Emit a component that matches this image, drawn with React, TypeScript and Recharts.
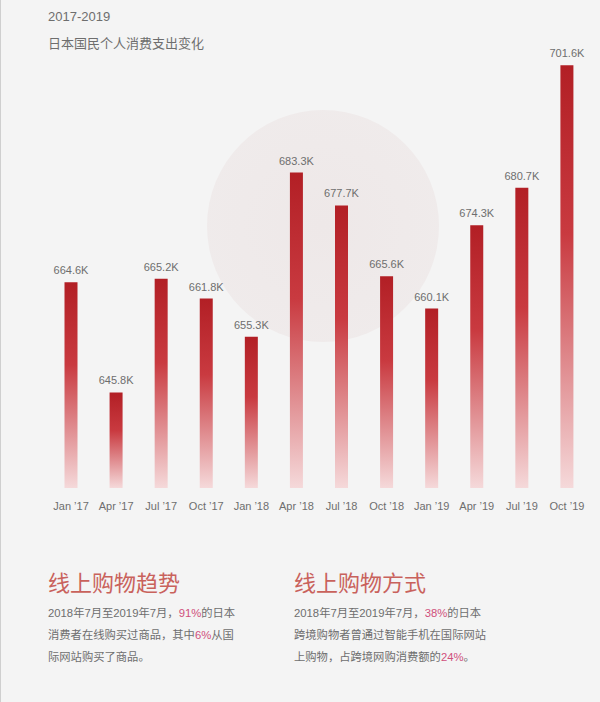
import { BarChart, Bar, XAxis, YAxis, LabelList } from 'recharts';

const quarters = ['Jan ’17', 'Apr ’17', 'Jul ’17', 'Oct ’17', 'Jan ’18', 'Apr ’18', 'Jul ’18', 'Oct ’18', 'Jan ’19', 'Apr ’19', 'Jul ’19', 'Oct ’19'];
const spending = [664.6, 645.8, 665.2, 661.8, 655.3, 683.3, 677.7, 665.6, 660.1, 674.3, 680.7, 701.6];

const chartData = quarters.map((q, i) => ({ quarter: q, value: spending[i] }));

const font = '"Liberation Sans", Arial, "Noto Sans CJK SC", sans-serif';
const textGray = '#6e6e6e';
const headRed = '#c9625c';
const accent = '#d0507c';

function Block({ left, title, children }: { left: number; title: string; children: React.ReactNode }) {
  return (
    <div style={{ position: 'absolute', left, top: 566, width: 260 }}>
      <div style={{ fontSize: 22, color: headRed, lineHeight: '30px', fontFamily: '"Noto Sans CJK SC", sans-serif' }}>{title}</div>
      <div style={{ marginTop: 6, fontSize: 11.3, lineHeight: '22px', color: textGray }}>{children}</div>
    </div>
  );
}

const Hi = ({ children }: { children: React.ReactNode }) => (
  <span style={{ color: accent }}>{children}</span>
);

export default function App() {
  return (
    <div style={{ position: 'absolute', left: 0, top: 0, width: 600, height: 702, background: '#f4f4f4', fontFamily: font, overflow: 'hidden', borderLeft: '1px solid #cfcfcf', boxSizing: 'border-box' }}>
      {/* soft decorative disc behind the middle bars */}
      <div style={{ position: 'absolute', left: 206, top: 110, width: 232, height: 232, borderRadius: '50%', background: 'radial-gradient(circle, #eee8e8 0%, #f0ecec 100%)' }} />
      <div style={{ position: 'absolute', left: 47, top: 9, fontSize: 13, color: textGray }}>2017-2019</div>
      <div style={{ position: 'absolute', left: 47, top: 33, fontSize: 13, color: textGray, fontFamily: '"Noto Sans CJK SC", sans-serif' }}>日本国民个人消费支出变化</div>

      <div style={{ position: 'absolute', left: 0, top: 0 }}>
        <BarChart width={600} height={530} data={chartData} margin={{ top: 16, right: 11.5, bottom: 12, left: 47.5 }}>
          <defs>
            <linearGradient id="barGrad" x1="0" y1="0" x2="0" y2="1">
              <stop offset="0%" stopColor="#b21f25" />
              <stop offset="40%" stopColor="#c93a40" />
              <stop offset="100%" stopColor="#f5d9da" />
            </linearGradient>
          </defs>
          <XAxis
            dataKey="quarter"
            axisLine={false}
            tickLine={false}
            interval={0}
            height={30}
            tickMargin={8}
            tick={{ fill: textGray, fontSize: 11, fontFamily: font }}
          />
          <YAxis hide domain={[629.5, 710]} allowDataOverflow />
          <Bar dataKey="value" barSize={13} fill="url(#barGrad)" isAnimationActive={false}>
            <LabelList
              dataKey="value"
              position="top"
              offset={8}
              formatter={(v: number) => `${v.toFixed(1)}K`}
              style={{ fill: textGray, fontSize: 11, fontFamily: font }}
            />
          </Bar>
        </BarChart>
      </div>

      <Block left={47} title="线上购物趋势">
        2018年7月至2019年7月，<Hi>91%</Hi>的日本<br />
        消费者在线购买过商品，其中<Hi>6%</Hi>从国<br />
        际网站购买了商品。
      </Block>
      <Block left={293} title="线上购物方式">
        2018年7月至2019年7月，<Hi>38%</Hi>的日本<br />
        跨境购物者曾通过智能手机在国际网站<br />
        上购物，占跨境网购消费额的<Hi>24%</Hi>。
      </Block>
    </div>
  );
}
